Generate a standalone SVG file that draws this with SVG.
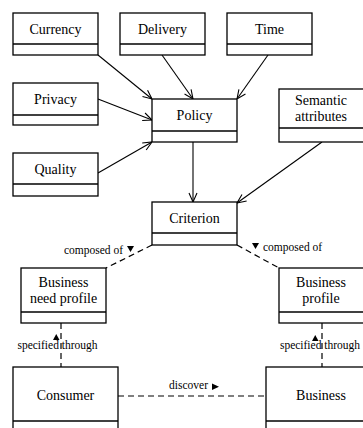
<svg xmlns="http://www.w3.org/2000/svg" width="363" height="428" viewBox="0 0 363 428">
<style>
.box{fill:#fff;stroke:#000;stroke-width:1.3}
.div{stroke:#000;stroke-width:1.3}
.t{font-family:'Liberation Serif','DejaVu Serif',serif;font-size:14px;text-anchor:middle;fill:#000}
.l{font-family:'Liberation Serif','DejaVu Serif',serif;font-size:11.5px;fill:#000}
.c{stroke:#000;stroke-width:1.1;fill:none}
.d{stroke:#000;stroke-width:1.2;fill:none;stroke-dasharray:6 4}
.tri{fill:#000}
</style>
<defs>
<marker id="open" viewBox="0 0 10 10" refX="10" refY="5" markerWidth="10" markerHeight="10" markerUnits="userSpaceOnUse" orient="auto">
<path d="M1,1 L10,5 L1,9" fill="none" stroke="#000" stroke-width="1.1"/>
</marker>
</defs>
<rect width="363" height="428" fill="#fff"/>
<g id="connectors">
<line class="c" x1="98" y1="55" x2="152" y2="99" marker-end="url(#open)"/>
<line class="c" x1="162" y1="55" x2="193" y2="99" marker-end="url(#open)"/>
<line class="c" x1="268" y1="55" x2="237" y2="99" marker-end="url(#open)"/>
<line class="c" x1="98" y1="99" x2="152" y2="120" marker-end="url(#open)"/>
<line class="c" x1="98" y1="173" x2="152" y2="142" marker-end="url(#open)"/>
<line class="c" x1="193" y1="142" x2="193" y2="202" marker-end="url(#open)"/>
<line class="c" x1="322" y1="142" x2="237" y2="203" marker-end="url(#open)"/>
<line class="d" x1="152" y1="245" x2="106" y2="268"/>
<line class="d" x1="237" y1="245" x2="279" y2="268"/>
<line class="d" x1="61" y1="323" x2="61" y2="367"/>
<line class="d" x1="322" y1="323" x2="322" y2="367"/>
<line class="d" x1="118" y1="396" x2="266" y2="396"/>
<text class="l" x="123" y="254" text-anchor="end">composed of</text>
<polygon class="tri" points="127,246 134,246 130.5,252"/>
<polygon class="tri" points="252,243 259,243 255.5,249"/>
<text class="l" x="263" y="251">composed of</text>
<polygon class="tri" points="53,340 59.5,340 56.25,334"/>
<text class="l" x="57.5" y="349" text-anchor="middle">specified through</text>
<polygon class="tri" points="312,341 318.5,341 315.25,335"/>
<text class="l" x="320" y="349" text-anchor="middle">specified through</text>
<text class="l" x="169" y="389">discover</text>
<polygon class="tri" points="212,383.5 212,390 219,386.75"/>
</g>
<g id="currency"><rect class="box" x="13" y="13" width="85" height="42"/><line class="div" x1="13" y1="44" x2="98" y2="44"/><text class="t" x="55.5" y="33.5">Currency</text></g>
<g id="delivery"><rect class="box" x="120" y="13" width="85" height="42"/><line class="div" x1="120" y1="44" x2="205" y2="44"/><text class="t" x="162.5" y="33.5">Delivery</text></g>
<g id="time"><rect class="box" x="227" y="13" width="85" height="42"/><line class="div" x1="227" y1="44" x2="312" y2="44"/><text class="t" x="269.5" y="33.5">Time</text></g>
<g id="privacy"><rect class="box" x="13" y="83" width="85" height="42"/><line class="div" x1="13" y1="115" x2="98" y2="115"/><text class="t" x="55.5" y="104">Privacy</text></g>
<g id="policy"><rect class="box" x="152" y="99" width="85" height="43"/><line class="div" x1="152" y1="131" x2="237" y2="131"/><text class="t" x="194.5" y="120">Policy</text></g>
<g id="semantic"><rect class="box" x="279" y="89" width="86" height="53"/><line class="div" x1="279" y1="128" x2="365" y2="128"/><text class="t" x="321" y="105">Semantic</text><text class="t" x="321" y="121">attributes</text></g>
<g id="quality"><rect class="box" x="13" y="153" width="85" height="43"/><line class="div" x1="13" y1="184" x2="98" y2="184"/><text class="t" x="55.5" y="174">Quality</text></g>
<g id="criterion"><rect class="box" x="152" y="202" width="85" height="43"/><line class="div" x1="152" y1="233" x2="237" y2="233"/><text class="t" x="194.5" y="222.5">Criterion</text></g>
<g id="need-profile"><rect class="box" x="21" y="268" width="85" height="55"/><line class="div" x1="21" y1="312" x2="106" y2="312"/><text class="t" x="63.5" y="286.5">Business</text><text class="t" x="63.5" y="302.5">need profile</text></g>
<g id="business-profile"><rect class="box" x="279" y="268" width="86" height="55"/><line class="div" x1="279" y1="312" x2="365" y2="312"/><text class="t" x="321" y="286.5">Business</text><text class="t" x="321" y="302.5">profile</text></g>
<g id="consumer"><rect class="box" x="13" y="367" width="105" height="70"/><line class="div" x1="13" y1="421" x2="118" y2="421"/><text class="t" x="65.5" y="400">Consumer</text></g>
<g id="business"><rect class="box" x="266" y="367" width="110" height="70"/><line class="div" x1="266" y1="421" x2="376" y2="421"/><text class="t" x="321" y="400">Business</text></g>
</svg>
